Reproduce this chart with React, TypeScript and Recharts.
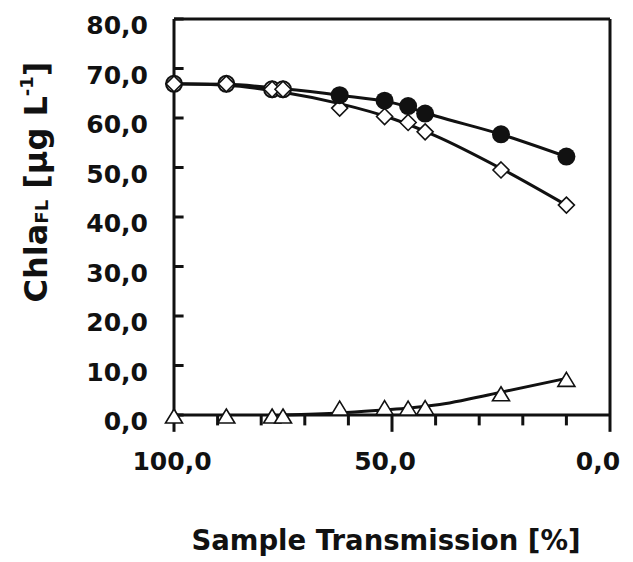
import { ComposedChart, Line, Scatter, XAxis, YAxis, ReferenceLine } from "recharts";

// x = sample transmission [%]
const transmission = [100, 88, 77.5, 75, 62, 51.7, 46.3, 42.4, 25, 10];
const openCircleY = [66.9, 66.9, 65.8, 65.8]; // first four transmissions
const filledCircleY = [64.6, 63.5, 62.4, 60.9, 56.7, 52.2]; // from 62 % on
const diamondY = [66.9, 66.9, 65.8, 65.8, 62.0, 60.3, 59.1, 57.2, 49.5, 42.4];
const triangleY = [0, 0, 0, 0, 1.6, 1.7, 1.6, 1.7, 4.5, 7.4];

// trend lines as drawn in the figure
const fitX = [100, 88, 75, 62, 50, 40, 25, 10];
const circleFitY = [66.9, 66.8, 65.9, 64.6, 63.1, 60.4, 56.7, 52.2];
const diamondFitY = [66.9, 66.6, 65.2, 62.9, 59.9, 56.4, 49.8, 42.4];
const triangleFitX = [75, 62, 52, 46, 40, 25, 10];
const triangleFitY = [0, 0.4, 1.0, 1.4, 2.0, 4.6, 7.4];

const xTicks = [100, 90, 80, 70, 60, 50, 40, 30, 20, 10, 0];
const xLabelTicks = [100, 50, 0];
const yTicks = [0, 10, 20, 30, 40, 50, 60, 70, 80];

const INK = "#111";
const FONT = "'DejaVu Sans', sans-serif";

const pts = (xs: number[], ys: number[]) => ys.map((y, i) => ({ x: xs[i], y }));

const openCircles = pts(transmission.slice(0, 4), openCircleY);
const filledCircles = pts(transmission.slice(4), filledCircleY);
const diamonds = pts(transmission, diamondY);
const triangles = pts(transmission, triangleY);
const circleFit = pts(fitX, circleFitY);
const diamondFit = pts(fitX, diamondFitY);
const triangleFit = pts(triangleFitX, triangleFitY);

const fmt = (v: number) => v.toFixed(1).replace(".", ",");

function XTick({ x, y, payload }: any) {
  const v = payload.value;
  if (!xLabelTicks.includes(v)) return <g />;
  return (
    <text
      x={x - 2 - (100 - v) * 0.1}
      y={y}
      textAnchor="middle"
      fontFamily={FONT}
      fontWeight="bold"
      fontSize={25}
      fill={INK}
    >
      {fmt(v)}
    </text>
  );
}

function YTick({ x, y, payload }: any) {
  return (
    <text x={x} y={y + 15} textAnchor="end" fontFamily={FONT} fontWeight="bold" fontSize={25} fill={INK}>
      {fmt(payload.value)}
    </text>
  );
}

const OpenCircle = ({ cx, cy }: any) => (
  <circle cx={cx} cy={cy} r={8} fill="#fff" stroke={INK} strokeWidth={2} />
);
const FilledCircle = ({ cx, cy }: any) => <circle cx={cx} cy={cy} r={9} fill={INK} />;
const Diamond = ({ cx, cy }: any) => (
  <path
    d={`M${cx},${cy - 8} L${cx + 8},${cy} L${cx},${cy + 8} L${cx - 8},${cy} Z`}
    fill="#fff"
    stroke={INK}
    strokeWidth={1.6}
  />
);
const Triangle = ({ cx, cy }: any) => (
  <path
    d={`M${cx},${cy - 6} L${cx + 8.5},${cy + 8} L${cx - 8.5},${cy + 8} Z`}
    fill="#fff"
    stroke={INK}
    strokeWidth={1.6}
  />
);

export default function App() {
  return (
    <div style={{ position: "absolute", left: 0, top: 0, background: "#fff" }}>
      <ComposedChart
        width={633}
        height={562}
        margin={{ top: 19, right: 23, bottom: 117, left: 114 }}
      >
        <XAxis
          type="number"
          dataKey="x"
          domain={[0, 100]}
          reversed
          ticks={xTicks}
          interval={0}
          tickSize={10}
          tickMargin={45}
          tickLine={false}
          tick={<XTick />}
          height={30}
          axisLine={{ stroke: INK, strokeWidth: 3 }}
          label={{
            content: ({ viewBox }: any) => (
              <text
                x={viewBox.x + viewBox.width / 2 - 6}
                y={viewBox.y + 135}
                textAnchor="middle"
                fontFamily={FONT}
                fontWeight="bold"
                fontSize={27.5}
                fill={INK}
              >
                Sample Transmission [%]
              </text>
            ),
          }}
        />
        <YAxis
          type="number"
          dataKey="y"
          domain={[0, 80]}
          ticks={yTicks}
          interval={0}
          tickSize={0}
          tickMargin={26}
          tickLine={false}
          tick={<YTick />}
          width={60}
          axisLine={{ stroke: INK, strokeWidth: 3 }}
          label={{
            content: () => (
              <text
                transform="translate(47,182) rotate(-90)"
                textAnchor="middle"
                fontFamily={FONT}
                fontWeight="bold"
                fontSize={32}
                fill={INK}
              >
                Chla
                <tspan fontSize={18} dy={1}>FL</tspan>
                <tspan dy={-1}> [µg L</tspan>
                <tspan fontSize={18} dy={-14}>-1</tspan>
                <tspan dy={14}>]</tspan>
              </text>
            ),
          }}
        />
        <ReferenceLine y={80} stroke={INK} strokeWidth={3} />
        <ReferenceLine x={0} stroke={INK} strokeWidth={3} />

        {/* inward y ticks, outward x ticks (longer at labelled values) */}
        {yTicks.map((v) => (
          <ReferenceLine
            key={`yt${v}`}
            segment={[{ x: 100, y: v }, { x: 97.8, y: v }]}
            stroke={INK}
            strokeWidth={3}
            ifOverflow="visible"
          />
        ))}
        {xTicks.map((v) => (
          <ReferenceLine
            key={`xt${v}`}
            segment={[{ x: v, y: 0 }, { x: v, y: xLabelTicks.includes(v) ? -3.4 : -2.1 }]}
            stroke={INK}
            strokeWidth={3}
            ifOverflow="visible"
          />
        ))}

        <Line data={circleFit} dataKey="y" type="monotone" stroke={INK} strokeWidth={3} dot={false} isAnimationActive={false} />
        <Line data={diamondFit} dataKey="y" type="monotone" stroke={INK} strokeWidth={3} dot={false} isAnimationActive={false} />
        <Line data={triangleFit} dataKey="y" type="monotone" stroke={INK} strokeWidth={3} dot={false} isAnimationActive={false} />

        <Scatter data={openCircles} dataKey="y" shape={OpenCircle} isAnimationActive={false} />
        <Scatter data={triangles} dataKey="y" shape={Triangle} isAnimationActive={false} />
        <Scatter data={diamonds} dataKey="y" shape={Diamond} isAnimationActive={false} />
        <Scatter data={filledCircles} dataKey="y" shape={FilledCircle} isAnimationActive={false} />
      </ComposedChart>
    </div>
  );
}
